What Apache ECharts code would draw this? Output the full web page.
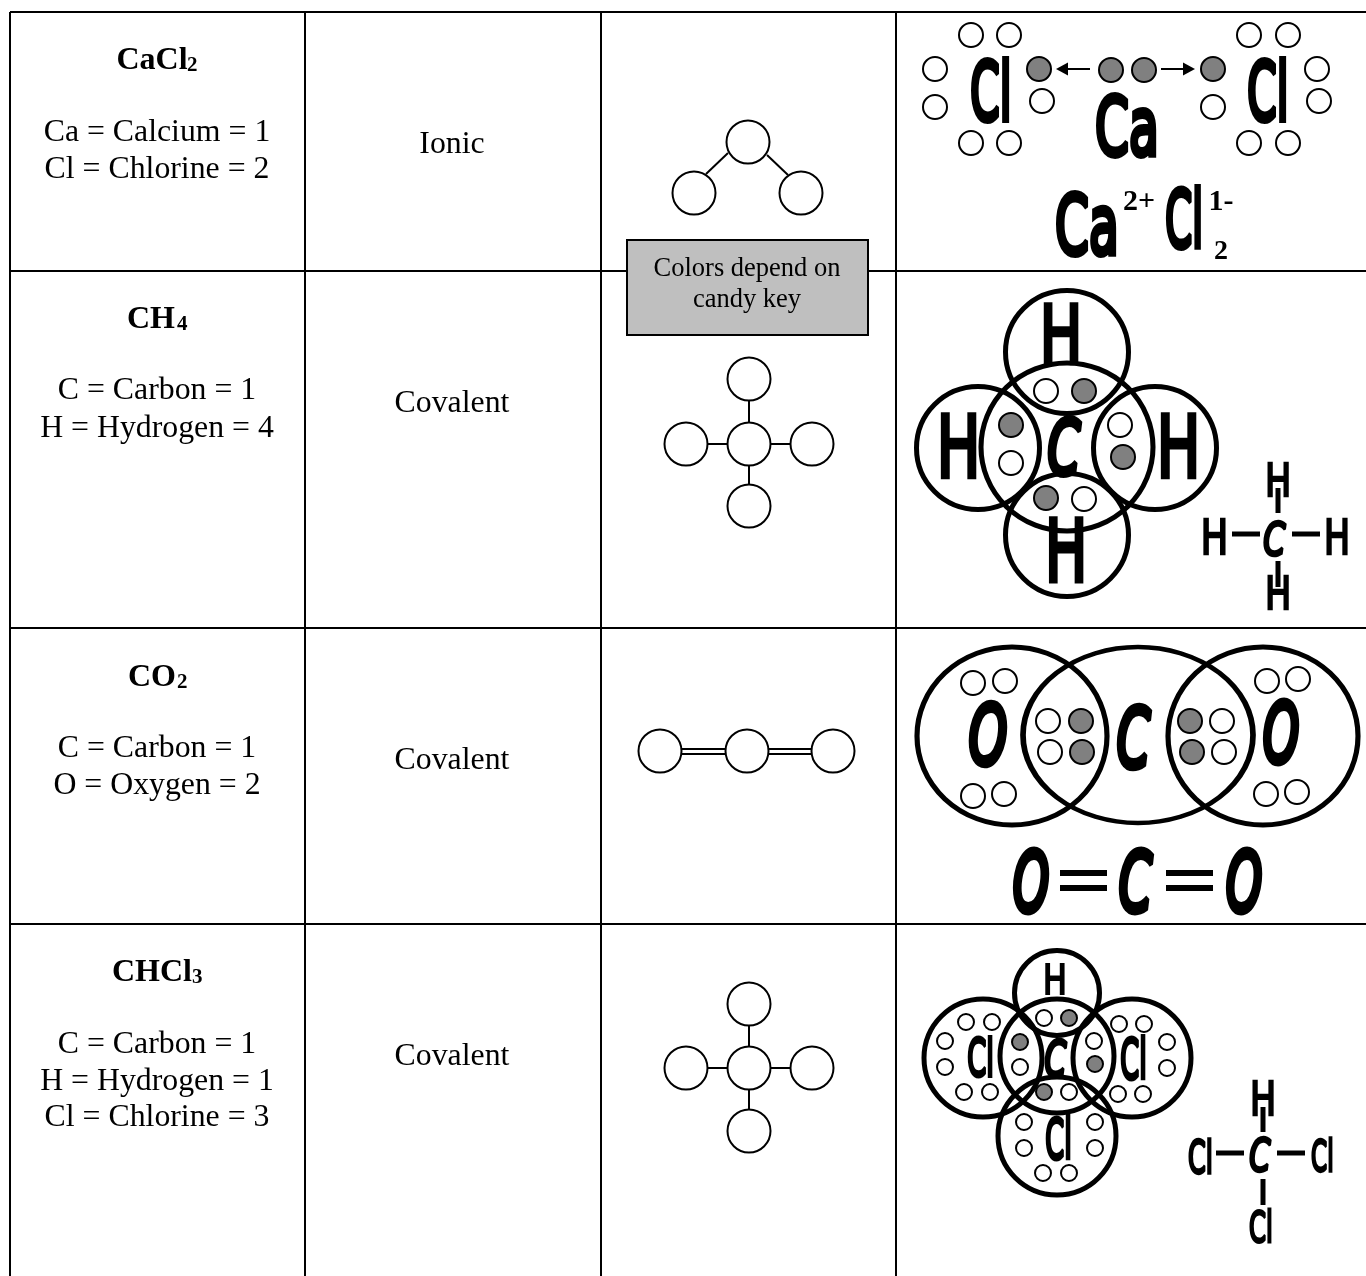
<!DOCTYPE html>
<html><head><meta charset="utf-8">
<style>html,body{margin:0;padding:0;background:#fff}#c{width:1366px;height:1276px}</style>
<script src="https://cdn.jsdelivr.net/npm/echarts@6/dist/echarts.min.js"></script>
</head><body><div id="c"></div>
<script>
// table rules [x1,y1,x2,y2]
const tableRules=[[10,12,1366,12],[10,12,10,1276],[305,12,305,1276],[601,12,601,1276],[896,12,896,1276],
 [10,271,1366,271],[10,628,1366,628],[10,924,1366,924]];
const noteBox=[[627,240,868,335]];
// text: [string, x, y]
const bodyText=[["Ca = Calcium = 1",157,133],["Cl = Chlorine = 2",157,170],["C = Carbon = 1",157,391],["H = Hydrogen = 4",157,429],
 ["C = Carbon = 1",157,749],["O = Oxygen = 2",157,786],["C = Carbon = 1",157,1045],["H = Hydrogen = 1",157,1082],["Cl = Chlorine = 3",157,1118],
 ["Ionic",452,145],["Covalent",452,404],["Covalent",452,761],["Covalent",452,1057]];
const formulaText=[["CaCl",152,61],["CH",151,320],["CO",152,678],["CHCl",152,973]];
const formulaSubs=[["2",187,66],["4",177,325],["2",177,683],["3",192,978]];
const noteText=[["Colors depend on",747,269],["candy key",747,300]];
const chargeText=[["2+",1139,202],["1-",1221,202]];
const chargeSub=[["2",1221,252]];
// model atoms [x,y]
const modelAtoms=[[748,142],[694,193],[801,193],
 [749,444],[749,379],[749,506],[686,444],[812,444],
 [660,751],[747,751],[833,751],
 [749,1068],[749,1004],[749,1131],[686,1068],[812,1068]];
const modelBonds=[[728,153,706,174],[767,155,788,175],
 [749,444,749,379],[749,444,749,506],[749,444,686,444],[749,444,812,444],
 [682,749,725,749],[682,754,725,754],[769,749,811,749],[769,754,811,754],
 [749,1068,749,1004],[749,1068,749,1131],[749,1068,686,1068],[749,1068,812,1068]];
// electron dots
const openLarge=[[971,35],[1009,35],[935,69],[935,107],[971,143],[1009,143],[1042,101],
 [1213,107],[1249,35],[1288,35],[1317,69],[1319,101],[1249,143],[1288,143],
 [1046,391],[1011,463],[1120,425],[1084,499],
 [973,683],[1005,681],[1048,721],[1050,752],[973,796],[1004,794],[1222,721],[1224,752],[1267,681],[1298,679],[1266,794],[1297,792]];
const filledLarge=[[1039,69],[1111,70],[1144,70],[1213,69],
 [1084,391],[1011,425],[1123,457],[1046,498],
 [1081,721],[1082,752],[1190,721],[1192,752]];
const openSmall=[[966,1022],[992,1022],[945,1041],[945,1067],[964,1092],[990,1092],[1020,1067],[1044,1018],[1069,1092],
 [1094,1041],[1119,1024],[1144,1024],[1167,1042],[1167,1068],[1118,1094],[1143,1094],
 [1024,1122],[1024,1148],[1095,1122],[1095,1148],[1043,1173],[1069,1173]];
const filledSmall=[[1069,1018],[1020,1042],[1095,1064],[1044,1092]];
// shell rings [x,y,w,h]
const shellRings=[[1067,352,123,123],[978,448,123,123],[1067,447,172,168],[1155,448,123,123],[1067,535,123,123],
 [1012,736,190,178],[1138,735,230,176],[1263,736,190,178],
 [1057,993,85,85],[983,1058,118,118],[1057,1056,114,114],[1132,1058,118,118],[1057,1136,118,118]];
// hand-lettered glyphs [string,x0,y0,x1,y1]
const wordGlyphs=[["Cl",970,57,1010,123],["Ca",1095,92,1157,158],["Cl",1247,57,1287,123],["Ca",1055,190,1117,257],["Cl",1165,185,1202,250],
 ["Cl",967,1035,993,1078],["Cl",1120,1035,1146,1080],["Cl",1045,1115,1071,1160],
 ["Cl",1188,1138,1212,1175],["Cl",1311,1137,1333,1173],["Cl",1249,1209,1272,1244]];
const slantGlyphs=[["C",1047,415,1083,477],["C",1263,520,1287,557],
 ["O",968,700,1008,767],["C",1116,703,1153,770],["O",1262,698,1300,766],["O",1012,847,1050,915],["C",1118,847,1155,915],["O",1225,847,1263,915],
 ["C",1044,1037,1068,1078],["C",1249,1137,1272,1173]];
const uprightGlyphs=[["H",1043,303,1079,365],["H",940,413,977,479],["H",1160,413,1197,479],["H",1048,517,1084,583],
 ["H",1267,462,1289,497],["H",1267,575,1289,610],["H",1203,518,1226,555],["H",1326,518,1348,555],
 ["H",1045,963,1065,995],["H",1252,1080,1274,1116]];
const heavyBonds=[[1232,534,1260,534],[1292,534,1320,534],[1278,488,1278,513],[1278,561,1278,587],
 [1216,1153,1244,1153],[1277,1153,1305,1153],[1263,1107,1263,1132],[1263,1179,1263,1205]];
const equalsBars=[[1060,873,1107,873],[1060,888,1107,888],[1166,873,1213,873],[1166,888,1213,888]];
const arrowSticks=[[1090,69,1064,69],[1161,69,1187,69]];
const arrowHeadsLeft=[[1062,69]];
const arrowHeadsRight=[[1189,69]];

const measure=document.createElement('canvas').getContext('2d');
function segments(rows,width,z){
 return {type:'custom',coordinateSystem:'cartesian2d',z,silent:true,clip:false,data:rows,
  renderItem(p,api){const a=api.coord([api.value(0),api.value(1)]),b=api.coord([api.value(2),api.value(3)]);
   return {type:'line',shape:{x1:a[0],y1:a[1],x2:b[0],y2:b[1]},style:{stroke:'#000',lineWidth:width}};}};
}
function dots(rows,size,fill,border,z){
 return {type:'scatter',data:rows,z,silent:true,symbol:'circle',symbolSize:size,clip:false,
  itemStyle:{color:fill,borderColor:'#000',borderWidth:border,opacity:1}};
}
function labels(rows,font,align,z){
 return {type:'custom',coordinateSystem:'cartesian2d',z,silent:true,clip:false,data:rows.map(r=>[r[1],r[2]]),
  renderItem(p,api){const c=api.coord([api.value(0),api.value(1)]);
   return {type:'text',x:c[0],y:c[1],style:{text:rows[p.dataIndex][0],font,fill:'#000',align:align,verticalAlign:'middle'}};}};
}
function glyphs(rows,font,ratio,z){
 return {type:'custom',coordinateSystem:'cartesian2d',z,silent:true,clip:false,data:rows.map(r=>r.slice(1)),
  renderItem(p,api){
   const a=api.coord([api.value(0),api.value(1)]),b=api.coord([api.value(2),api.value(3)]);
   const t=rows[p.dataIndex][0];
   measure.font=font;measure.textAlign='center';measure.textBaseline='middle';
   const m=measure.measureText(t);
   const w=m.actualBoundingBoxLeft+m.actualBoundingBoxRight,h=m.actualBoundingBoxAscent+m.actualBoundingBoxDescent;
   const sw=(b[1]-a[1])*ratio;
   const sx=(b[0]-a[0]-sw)/w,sy=(b[1]-a[1]-sw)/h;
   const cx=(m.actualBoundingBoxRight-m.actualBoundingBoxLeft)/2,cy=(m.actualBoundingBoxDescent-m.actualBoundingBoxAscent)/2;
   return {type:'text',x:(a[0]+b[0])/2-cx*sx,y:(a[1]+b[1])/2-cy*sy,scaleX:sx,scaleY:sy,
    style:{text:t,font,fill:'#000',stroke:'#000',lineWidth:sw/((sx+sy)/2),lineJoin:'round',align:'center',verticalAlign:'middle'}};
  }};
}
const SERIF='"Liberation Serif"';
const chart=echarts.init(document.getElementById('c'),null,{renderer:'canvas'});
chart.setOption({animation:false,backgroundColor:'#fff',tooltip:{show:false},legend:{show:false},
 grid:{left:0,right:0,top:0,bottom:0,containLabel:false},
 xAxis:{type:'value',min:0,max:1366,show:false},
 yAxis:{type:'value',min:0,max:1276,inverse:true,show:false},
 series:[
  segments(tableRules,2,1),
  {type:'custom',coordinateSystem:'cartesian2d',z:2,silent:true,clip:false,data:noteBox,
   renderItem(p,api){const a=api.coord([api.value(0),api.value(1)]),b=api.coord([api.value(2),api.value(3)]);
    return {type:'rect',shape:{x:a[0],y:a[1],width:b[0]-a[0],height:b[1]-a[1]},style:{fill:'#BFBFBF',stroke:'#000',lineWidth:2}};}},
  segments(modelBonds,2,3),
  dots(modelAtoms,43,'#fff',2,4),
  segments(heavyBonds,5,3),
  segments(equalsBars,6,3),
  segments(arrowSticks,2,3),
  {type:'scatter',data:shellRings,z:5,silent:true,clip:false,symbol:'circle',symbolSize:v=>[v[2],v[3]],
   itemStyle:{color:'rgba(0,0,0,0)',borderColor:'#000',borderWidth:5,opacity:1}},
  dots(openLarge,24,'#fff',2,6),
  dots(filledLarge,24,'#808080',2,6),
  dots(openSmall,16,'#fff',2,6),
  dots(filledSmall,16,'#808080',2,6),
  {type:'scatter',data:arrowHeadsLeft,z:6,silent:true,clip:false,symbol:'triangle',symbolSize:[13,12],symbolRotate:90,itemStyle:{color:'#000',opacity:1}},
  {type:'scatter',data:arrowHeadsRight,z:6,silent:true,clip:false,symbol:'triangle',symbolSize:[13,12],symbolRotate:-90,itemStyle:{color:'#000',opacity:1}},
  glyphs(wordGlyphs,'100px "DejaVu Sans"',0.07,7),
  glyphs(slantGlyphs,'italic 100px "DejaVu Sans"',0.08,7),
  glyphs(uprightGlyphs,'100px "DejaVu Sans"',0.06,7),
  labels(bodyText,'31.8px '+SERIF,'center',8),
  labels(formulaText,'bold 32px '+SERIF,'center',8),
  labels(formulaSubs,'bold 21px '+SERIF,'left',8),
  labels(noteText,'26.5px '+SERIF,'center',8),
  labels(chargeText,'bold 30px '+SERIF,'center',8),
  labels(chargeSub,'bold 28px '+SERIF,'center',8)
 ]});
</script></body></html>
